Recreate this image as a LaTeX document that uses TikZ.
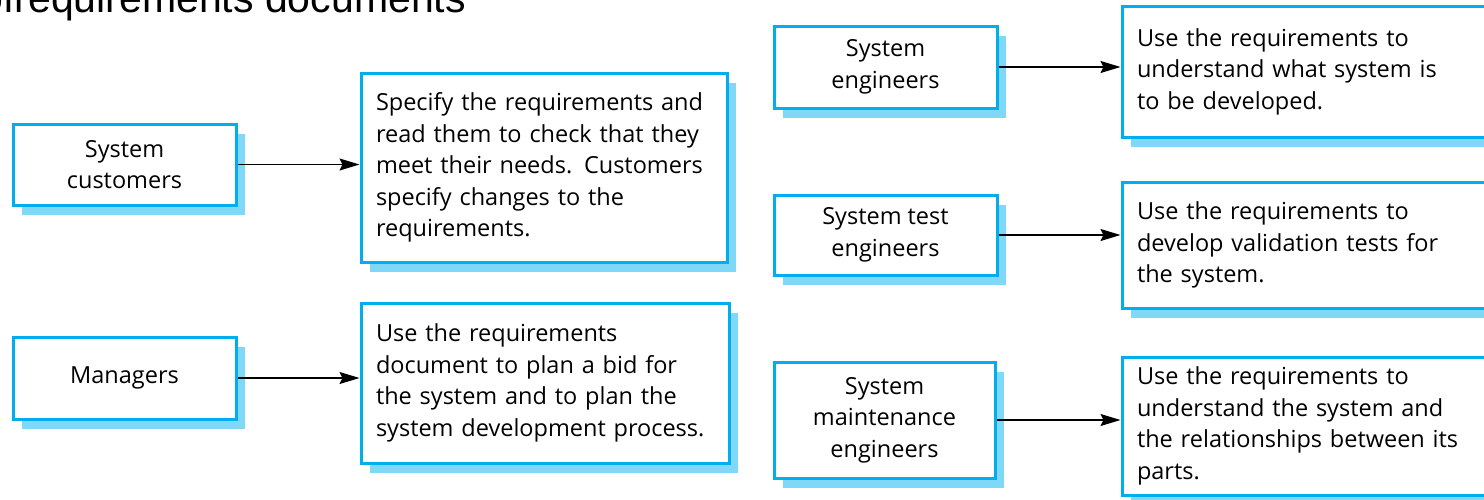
\documentclass[tikz,border=0pt]{standalone}
\usepackage{fontspec}
\setmainfont{Open Sans}
\newfontfamily\headfont{Liberation Sans}
\usetikzlibrary{
  arrows.meta,
  positioning,
  shadows
}
\definecolor{rqcyan}{HTML}{00AEEF}
\definecolor{rqshade}{HTML}{80D8F8}
\newcommand{\boxtext}{\fontsize{23.5}{31.5}\selectfont}

\begin{document}
\begin{tikzpicture}[
  x=1pt, y=-1pt,
  node distance=122pt,
  reader/.style={draw=rqcyan, line width=3pt, fill=white, minimum width=223pt,
    minimum height=81pt, inner sep=0pt, align=center, font=\boxtext,
    drop shadow={shadow xshift=9pt, shadow yshift=-10pt, fill=rqshade, opacity=1}},
  purpose/.style={draw=rqcyan, line width=3pt, fill=white, inner xsep=15pt,
    inner ysep=0pt, align=left, font=\boxtext,
    drop shadow={shadow xshift=9pt, shadow yshift=-10pt, fill=rqshade, opacity=1}},
  link/.style={draw, line width=1.2pt, -{Stealth[length=20pt, width=12pt, inset=3pt]}}
]
  \useasboundingbox (0,0) rectangle (1484,499);
  \clip (0,0) rectangle (1484,499);

  \node[anchor=base east, inner sep=0pt, font=\headfont\fontsize{41}{41}\selectfont]
    (title) at (466,12) {of\hspace{-12pt} requirements documents};

  % left half
  \node[reader] (cust) at (124.5,164.5) {System\\customers};
  \node[purpose, text width=336pt, minimum height=189pt, right=of cust, yshift=-3pt]
    (custuse) {Specify the requirements and\\read them to check that they\\meet their needs. Customers\\specify changes to the\\requirements.};

  \node[reader, minimum height=82pt] (mgr) at (124.5,378) {Managers};
  \node[purpose, text width=338pt, minimum height=160pt, right=of mgr, yshift=-5pt]
    (mgruse) {Use the requirements\\document to plan a bid for\\the system and to plan the\\system development process.};

  % right half
  \node[reader, minimum height=82pt] (syseng) at (885.5,67) {System\\engineers};
  \node[purpose, text width=370pt, minimum height=131pt, right=of syseng, yshift=-4.5pt]
    (sysenguse) {Use the requirements to\\understand what system is\\to be developed.};

  \node[reader, minimum height=80pt] (testeng) at (885.5,235) {System test\\engineers};
  \node[purpose, text width=370pt, minimum height=126pt, right=of testeng, yshift=-10pt]
    (testenguse) {Use the requirements to\\develop validation tests for\\the system.};

  \node[reader, minimum width=221pt, minimum height=116pt] (maint) at (884.5,420)
    {System\\maintenance\\engineers};
  \node[purpose, text width=370pt, minimum height=138pt, right=124pt of maint, yshift=-6pt]
    (maintuse) {Use the requirements to\\understand the system and\\the relationships between its\\parts.};

  \draw[link] (cust.east) -- (cust.east -| custuse.west);
  \draw[link] (mgr.east) -- (mgr.east -| mgruse.west);
  \draw[link] (syseng.east) -- (syseng.east -| sysenguse.west);
  \draw[link] (testeng.east) -- (testeng.east -| testenguse.west);
  \draw[link] (maint.east) -- (maint.east -| maintuse.west);

\end{tikzpicture}
\end{document}
